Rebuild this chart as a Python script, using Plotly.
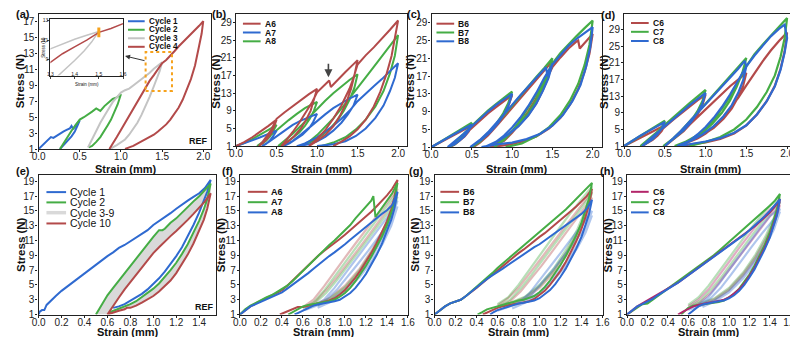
import plotly.graph_objects as go

W, H = 798, 337
FONT = "Liberation Sans, Arial, sans-serif"
BROWN = "#b34a4a"
GREEN = "#45ad45"
BLUE = "#2f6ad0"
MAGENTA = "#b3266a"
GRAY_BAND = "#d9d9d9"
GRAY_LINE = "#c4c4c4"
ORANGE = "#f6a21c"

# ---------------- panel (a): REF, 4 cycles ----------------
A_C1_X = [0.00, 0.03, 0.06, 0.09, 0.12, 0.15, 0.18, 0.22, 0.26, 0.30, 0.34, 0.38, 0.40, 0.42, 0.45, 0.48, 0.50,
          0.47, 0.44, 0.40, 0.36, 0.32, 0.28, 0.26]
A_C1_Y = [1.0, 1.3, 1.6, 2.0, 2.2, 2.5, 2.4, 2.7, 2.9, 3.2, 3.4, 3.6, 3.9, 3.5, 4.0, 4.3, 4.6,
          3.9, 3.2, 2.6, 2.1, 1.6, 1.2, 1.0]
A_C2_X = [0.26, 0.30, 0.35, 0.40, 0.45, 0.50, 0.55, 0.60, 0.65, 0.70, 0.72, 0.75, 0.80, 0.85, 0.90, 0.95, 1.00,
          0.96, 0.92, 0.88, 0.84, 0.80, 0.75, 0.70, 0.65, 0.61]
A_C2_Y = [1.0, 1.7, 2.5, 3.3, 4.0, 4.7, 5.0, 5.3, 5.7, 6.1, 6.0, 5.8, 6.4, 6.9, 7.3, 7.5, 7.9,
          6.6, 5.6, 4.7, 4.0, 3.3, 2.5, 1.9, 1.4, 1.2]
A_C3_X = [0.60, 0.65, 0.70, 0.75, 0.80, 0.85, 0.90, 0.95, 1.00, 1.05, 1.10, 1.15, 1.20, 1.25, 1.30, 1.35, 1.40, 1.45, 1.50,
          1.47, 1.44, 1.40, 1.35, 1.30, 1.25, 1.20, 1.15, 1.10, 1.05, 1.00, 0.95, 0.90, 0.87]
A_C3_Y = [1.2, 2.3, 3.3, 4.3, 5.2, 6.1, 6.9, 7.5, 8.1, 8.4, 8.6, 9.0, 9.4, 9.7, 10.1, 10.6, 11.1, 11.5, 11.9,
          10.8, 9.9, 8.9, 7.6, 6.4, 5.3, 4.3, 3.5, 2.8, 2.2, 1.8, 1.5, 1.2, 1.0]
A_C4_X = [0.86, 0.90, 0.95, 1.00, 1.05, 1.10, 1.15, 1.20, 1.25, 1.30, 1.35, 1.40, 1.45, 1.50, 1.55, 1.60, 1.65, 1.70,
          1.75, 1.80, 1.85, 1.90, 1.95, 2.00,
          1.98, 1.95, 1.92, 1.90, 1.85, 1.80, 1.75, 1.70, 1.65, 1.60, 1.55, 1.50, 1.45, 1.40, 1.35, 1.30, 1.25,
          1.20, 1.15, 1.10, 1.05]
A_C4_Y = [1.0, 1.6, 2.5, 3.4, 4.3, 5.2, 6.1, 7.0, 7.9, 8.7, 9.6, 10.3, 11.0, 11.8, 12.2, 12.7, 13.3, 13.9,
          14.4, 14.9, 15.5, 16.0, 16.5, 17.1,
          15.5, 14.0, 12.5, 11.5, 9.8, 8.4, 7.2, 6.2, 5.4, 4.7, 4.1, 3.6, 3.2, 2.8, 2.5, 2.2, 1.9,
          1.6, 1.4, 1.2, 1.0]

# ---------------- panel (b) ----------------
B_A6_X = [0.00, 0.10, 0.20, 0.30, 0.40, 0.50,
          0.47, 0.43, 0.38, 0.33, 0.28,
          0.33, 0.38, 0.43, 0.47, 0.50, 0.60, 0.70, 0.80, 0.90, 1.00,
          0.96, 0.92, 0.86, 0.80, 0.72, 0.64, 0.56,
          0.62, 0.70, 0.78, 0.86, 0.94, 1.00, 1.08, 1.15, 1.17, 1.25, 1.35, 1.45, 1.50,
          1.46, 1.42, 1.36, 1.28, 1.20, 1.10, 1.00, 0.90,
          1.00, 1.10, 1.20, 1.30, 1.40, 1.45, 1.50, 1.60, 1.70, 1.80, 1.90, 2.00,
          1.96, 1.92, 1.86, 1.78, 1.70, 1.60, 1.50, 1.40, 1.30, 1.20]
B_A6_Y = [1.0, 1.9, 3.0, 4.2, 5.6, 7.0,
          5.4, 3.8, 2.6, 1.7, 1.0,
          2.0, 3.2, 4.6, 6.0, 7.2, 8.7, 10.1, 11.5, 12.8, 14.0,
          11.2, 9.0, 6.8, 5.0, 3.3, 2.0, 1.0,
          2.3, 4.2, 6.3, 8.5, 11.0, 13.2, 14.6, 15.9, 14.4, 16.0, 17.8, 19.6, 20.5,
          17.0, 14.0, 10.8, 7.8, 5.5, 3.5, 2.2, 1.0,
          2.6, 4.6, 7.2, 10.2, 14.0, 16.5, 19.5, 21.6, 23.4, 25.3, 27.4, 29.5,
          25.0, 21.5, 17.5, 13.3, 10.0, 7.0, 4.8, 3.2, 2.0, 1.0]
B_A7_X = [0.00, 0.10, 0.20, 0.30, 0.40, 0.50,
          0.46, 0.42, 0.37, 0.32,
          0.40, 0.50, 0.60, 0.70, 0.80, 0.90, 1.00,
          0.95, 0.90, 0.82, 0.74, 0.66, 0.58,
          0.70, 0.80, 0.90, 1.00, 1.10, 1.20, 1.30, 1.40, 1.50,
          1.45, 1.38, 1.30, 1.20, 1.10, 1.00, 0.90, 0.75,
          0.85, 1.00, 1.10, 1.20, 1.30, 1.40, 1.50, 1.60, 1.70, 1.80, 1.90, 2.00,
          1.96, 1.90, 1.82, 1.72, 1.60, 1.48, 1.35, 1.20, 1.00]
B_A7_Y = [1.0, 1.6, 2.3, 3.0, 3.8, 4.5,
          3.3, 2.3, 1.5, 1.0,
          1.9, 3.2, 4.6, 5.8, 6.8, 7.6, 8.3,
          6.4, 5.0, 3.6, 2.5, 1.6, 1.0,
          2.2, 3.6, 5.2, 6.6, 8.2, 9.6, 10.8, 11.8, 12.7,
          10.2, 8.2, 6.3, 4.5, 3.1, 2.1, 1.4, 1.0,
          1.6, 3.0, 4.2, 5.6, 7.2, 9.0, 11.2, 13.0, 14.6, 16.2, 17.9, 19.8,
          16.5, 13.5, 10.2, 7.4, 5.0, 3.3, 2.1, 1.4, 1.0]
B_A8_X = [0.00, 0.10, 0.20, 0.30, 0.40, 0.50,
          0.46, 0.42, 0.37, 0.32, 0.26,
          0.35, 0.45, 0.55, 0.65, 0.75, 0.85, 0.92, 1.00,
          0.96, 0.91, 0.85, 0.78, 0.70, 0.62, 0.52,
          0.60, 0.70, 0.80, 0.90, 1.00, 1.10, 1.20, 1.30, 1.40, 1.50,
          1.46, 1.40, 1.33, 1.25, 1.15, 1.05, 0.93, 0.80,
          0.90, 1.00, 1.10, 1.20, 1.30, 1.40, 1.50, 1.60, 1.70, 1.80, 1.90, 2.00,
          1.96, 1.90, 1.82, 1.72, 1.60, 1.48, 1.35, 1.20, 1.05]
B_A8_Y = [1.0, 1.7, 2.6, 3.6, 4.7, 5.8,
          4.4, 3.2, 2.2, 1.5, 1.0,
          2.2, 3.8, 5.4, 6.9, 8.3, 9.6, 10.3, 11.0,
          9.0, 7.2, 5.6, 4.1, 2.9, 1.9, 1.0,
          2.2, 3.8, 5.6, 7.5, 9.5, 11.3, 13.0, 14.6, 16.0, 17.3,
          14.2, 11.5, 9.0, 6.8, 4.8, 3.3, 2.0, 1.0,
          2.0, 3.5, 5.3, 7.3, 9.5, 11.8, 14.2, 16.6, 19.0, 21.4, 23.8, 26.2,
          21.5, 17.5, 13.5, 10.0, 7.0, 4.8, 3.0, 1.8, 1.0]

# ---------------- panel (c) ----------------
C_B6_X = [0.00, 0.10, 0.20, 0.30, 0.40, 0.50,
          0.46, 0.41, 0.35, 0.29, 0.23,
          0.30, 0.40, 0.50, 0.60, 0.70, 0.80, 0.90, 1.00,
          0.95, 0.89, 0.81, 0.72, 0.62, 0.52,
          0.60, 0.70, 0.80, 0.90, 1.00, 1.10, 1.20, 1.30, 1.40, 1.50,
          1.45, 1.38, 1.30, 1.20, 1.08, 0.95, 0.80,
          0.90, 1.00, 1.10, 1.20, 1.30, 1.40, 1.50, 1.60, 1.70, 1.80, 1.82, 1.84, 1.90, 2.00,
          1.96, 1.90, 1.82, 1.72, 1.60, 1.46, 1.30, 1.12, 0.95, 0.72]
C_B6_Y = [1.0, 2.0, 3.0, 4.0, 4.9, 5.8,
          4.5, 3.4, 2.4, 1.6, 1.0,
          2.0, 3.6, 5.3, 7.0, 8.6, 10.0, 11.4, 12.7,
          10.2, 8.1, 6.1, 4.3, 2.7, 1.0,
          2.0, 3.6, 5.6, 7.7, 9.8, 11.9, 14.0, 16.2, 18.4, 20.4,
          16.8, 13.8, 10.9, 8.2, 5.8, 3.7, 1.6,
          2.4, 4.2, 6.4, 9.0, 12.0, 15.4, 19.0, 21.2, 23.2, 24.8, 25.0, 23.2, 24.4, 26.5,
          22.0, 18.0, 14.0, 10.6, 7.6, 5.2, 3.4, 2.2, 1.5, 1.0]
C_B7_X = [0.00, 0.10, 0.20, 0.30, 0.40, 0.50,
          0.46, 0.41, 0.35, 0.29, 0.22,
          0.30, 0.40, 0.50, 0.60, 0.70, 0.80, 0.90, 1.00,
          0.95, 0.89, 0.81, 0.72, 0.62, 0.50,
          0.60, 0.70, 0.80, 0.90, 1.00, 1.10, 1.20, 1.30, 1.40, 1.45, 1.50,
          1.45, 1.38, 1.30, 1.20, 1.08, 0.95, 0.78,
          0.90, 1.00, 1.10, 1.20, 1.30, 1.40, 1.50, 1.60, 1.70, 1.80, 1.90, 2.00,
          1.96, 1.90, 1.82, 1.72, 1.60, 1.46, 1.30, 1.12, 0.92]
C_B7_Y = [1.0, 2.1, 3.2, 4.3, 5.4, 6.5,
          5.0, 3.7, 2.6, 1.7, 1.0,
          2.3, 4.0, 5.8, 7.6, 9.2, 10.7, 12.1, 13.5,
          10.8, 8.6, 6.4, 4.5, 2.8, 1.0,
          2.2, 4.0, 6.0, 8.2, 10.4, 12.6, 14.7, 16.8, 18.8, 20.0, 21.0,
          17.5, 14.5, 11.5, 8.6, 6.0, 3.8, 1.0,
          2.6, 4.6, 7.0, 9.8, 12.8, 16.2, 19.8, 22.2, 24.2, 26.0, 27.8, 29.5,
          24.0, 19.5, 15.2, 11.5, 8.2, 5.5, 3.4, 1.8, 1.0]
C_B8_X = [0.00, 0.10, 0.20, 0.30, 0.40, 0.50,
          0.46, 0.41, 0.35, 0.28, 0.20,
          0.30, 0.40, 0.50, 0.60, 0.70, 0.80, 0.90, 1.00,
          0.96, 0.90, 0.82, 0.73, 0.62, 0.48,
          0.60, 0.70, 0.80, 0.90, 1.00, 1.10, 1.20, 1.30, 1.42, 1.44, 1.50,
          1.45, 1.38, 1.30, 1.20, 1.08, 0.95, 0.82, 0.66,
          0.80, 0.90, 1.00, 1.10, 1.20, 1.30, 1.40, 1.50, 1.60, 1.70, 1.80, 1.90, 2.00,
          1.97, 1.92, 1.85, 1.75, 1.63, 1.50, 1.35, 1.18, 1.00, 0.80, 0.62]
C_B8_Y = [1.0, 2.1, 3.1, 4.1, 5.1, 6.1,
          4.7, 3.5, 2.5, 1.6, 1.0,
          2.4, 4.0, 5.7, 7.4, 9.0, 10.5, 11.8, 13.0,
          10.6, 8.4, 6.3, 4.4, 2.7, 1.0,
          2.6, 4.3, 6.3, 8.4, 10.5, 12.6, 14.6, 16.6, 19.0, 17.0, 19.8,
          16.5, 13.6, 10.8, 8.1, 5.7, 3.8, 2.3, 1.0,
          2.2, 3.6, 5.4, 7.6, 10.2, 13.2, 16.6, 19.6, 21.8, 23.8, 25.4, 26.8, 28.0,
          23.5, 19.2, 15.0, 11.4, 8.2, 5.8, 4.0, 2.8, 2.0, 1.6, 1.0]

# ---------------- panel (d) ----------------
D_C6_X = [0.00, 0.10, 0.20, 0.30, 0.40, 0.50,
          0.46, 0.41, 0.35, 0.28, 0.22,
          0.30, 0.40, 0.50, 0.60, 0.70, 0.80, 0.90, 1.00,
          0.96, 0.90, 0.82, 0.73, 0.62, 0.50,
          0.60, 0.70, 0.80, 0.90, 1.00, 1.10, 1.20, 1.30, 1.40, 1.45, 1.50,
          1.46, 1.40, 1.32, 1.22, 1.10, 0.96, 0.82, 0.66,
          0.80, 0.90, 1.00, 1.10, 1.20, 1.30, 1.40, 1.50, 1.60, 1.70, 1.80, 1.90, 2.00,
          1.97, 1.92, 1.85, 1.75, 1.63, 1.50, 1.35, 1.18, 1.00, 0.82, 0.68]
D_C6_Y = [1.0, 2.0, 3.0, 4.0, 5.0, 6.0,
          4.6, 3.5, 2.5, 1.7, 1.0,
          2.2, 3.8, 5.6, 7.3, 8.9, 10.5, 12.0, 13.4,
          10.8, 8.6, 6.5, 4.6, 2.9, 1.0,
          2.5, 4.2, 6.1, 8.0, 9.9, 11.8, 13.6, 15.4, 17.0, 17.8, 18.6,
          15.5, 12.8, 10.0, 7.6, 5.4, 3.6, 2.2, 1.0,
          1.9, 2.8, 4.0, 5.6, 7.6, 10.0, 12.6, 15.6, 18.6, 21.4, 24.0, 26.3, 28.3,
          23.8, 19.6, 15.5, 11.8, 8.6, 6.0, 4.0, 2.7, 1.9, 1.4, 1.0]
D_C7_X = [0.00, 0.10, 0.20, 0.30, 0.40, 0.50,
          0.46, 0.41, 0.35, 0.28, 0.20,
          0.30, 0.40, 0.50, 0.60, 0.70, 0.80, 0.90, 1.00,
          0.96, 0.90, 0.82, 0.73, 0.62, 0.48,
          0.60, 0.70, 0.80, 0.90, 1.00, 1.10, 1.20, 1.30, 1.40, 1.50,
          1.45, 1.38, 1.30, 1.20, 1.08, 0.95, 0.80, 0.62,
          0.75, 0.90, 1.00, 1.10, 1.20, 1.30, 1.40, 1.50, 1.60, 1.70, 1.80, 1.90, 2.00,
          1.97, 1.92, 1.85, 1.75, 1.63, 1.50, 1.35, 1.18, 1.00, 0.80]
D_C7_Y = [1.0, 2.3, 3.5, 4.7, 5.9, 7.1,
          5.4, 4.0, 2.8, 1.8, 1.0,
          2.6, 4.3, 6.1, 7.9, 9.6, 11.3, 12.9, 14.5,
          11.8, 9.4, 7.0, 4.9, 3.0, 1.0,
          2.8, 4.7, 6.8, 9.0, 11.2, 13.4, 15.6, 17.8, 20.0, 22.2,
          18.6, 15.2, 12.0, 9.0, 6.3, 4.0, 2.4, 1.0,
          2.0, 3.6, 5.2, 7.4, 10.0, 13.0, 16.4, 20.2, 23.1, 25.4, 27.6, 29.7, 31.8,
          27.0, 22.5, 18.0, 14.0, 10.4, 7.4, 5.0, 3.2, 2.0, 1.0]
D_C8_X = [0.00, 0.10, 0.20, 0.30, 0.40, 0.50,
          0.46, 0.41, 0.35, 0.28, 0.22,
          0.30, 0.40, 0.50, 0.60, 0.70, 0.80, 0.90, 1.00,
          0.96, 0.90, 0.82, 0.73, 0.62, 0.50,
          0.60, 0.70, 0.80, 0.90, 1.00, 1.10, 1.20, 1.30, 1.40, 1.48, 1.50,
          1.46, 1.40, 1.32, 1.22, 1.10, 0.96, 0.82, 0.65,
          0.80, 0.90, 1.00, 1.10, 1.20, 1.30, 1.40, 1.50, 1.60, 1.70, 1.80, 1.90, 1.97, 2.00,
          1.97, 1.92, 1.85, 1.75, 1.63, 1.50, 1.35, 1.18, 1.00, 0.82, 0.66]
D_C8_Y = [1.0, 2.3, 3.5, 4.6, 5.7, 6.8,
          5.2, 3.9, 2.7, 1.8, 1.0,
          2.4, 4.1, 5.9, 7.6, 9.2, 10.8, 12.3, 13.8,
          11.2, 9.0, 6.8, 4.8, 3.0, 1.0,
          2.8, 4.7, 6.8, 9.0, 11.2, 13.3, 15.4, 17.5, 19.6, 21.5, 20.2,
          16.8, 13.8, 10.8, 8.2, 5.8, 3.8, 2.3, 1.0,
          2.2, 3.8, 5.6, 7.8, 10.4, 13.4, 16.8, 20.2, 22.8, 25.2, 27.4, 29.2, 30.2, 27.0,
          23.5, 19.4, 15.4, 11.8, 8.6, 6.0, 4.2, 2.9, 2.1, 1.5, 1.0]

# ---------------- panel (e): REF, 10 cycles ----------------
E_C1_X = [0.00, 0.01, 0.03, 0.05, 0.07, 0.10, 0.15, 0.20, 0.25, 0.30, 0.35, 0.40, 0.45, 0.50, 0.55, 0.60, 0.65,
          0.70, 0.75, 0.80, 0.85, 0.90, 0.95, 1.00, 1.05, 1.10, 1.15, 1.20, 1.25, 1.30, 1.35, 1.40, 1.45, 1.50,
          1.47, 1.44, 1.40, 1.35, 1.30, 1.25, 1.20, 1.15, 1.10, 1.05, 1.00, 0.95, 0.90, 0.85, 0.80, 0.75, 0.70, 0.65]
E_C1_Y = [1.0, 1.4, 1.6, 1.6, 2.3, 2.8, 3.5, 4.2, 4.8, 5.4, 5.9, 6.5, 7.1, 7.7, 8.3, 8.9, 9.4,
          10.0, 10.4, 10.9, 11.4, 11.9, 12.4, 13.1, 13.6, 14.2, 14.7, 15.3, 15.9, 16.4, 16.9, 17.4, 18.1, 19.2,
          17.6, 16.3, 14.8, 13.1, 11.5, 10.1, 8.9, 7.8, 6.8, 5.9, 5.1, 4.4, 3.8, 3.3, 2.8, 2.4, 2.1, 1.9]
E_C2_LX = [0.50, 0.55, 0.60, 0.65, 0.70, 0.75, 0.80, 0.85, 0.90, 0.95, 1.00, 1.05, 1.08, 1.10, 1.15, 1.20,
           1.25, 1.30, 1.35, 1.40, 1.45, 1.50]
E_C2_LY = [1.0, 2.4, 3.6, 4.6, 5.6, 6.6, 7.6, 8.6, 9.6, 10.6, 11.5, 12.4, 12.4, 12.6, 13.4, 14.0,
           14.8, 15.5, 16.3, 17.0, 17.8, 18.7]
E_C2_UX = [1.50, 1.47, 1.44, 1.40, 1.35, 1.30, 1.25, 1.20, 1.15, 1.10, 1.05, 1.00, 0.95, 0.90, 0.85, 0.80,
           0.75, 0.70, 0.65, 0.62]
E_C2_UY = [18.7, 16.6, 15.2, 13.7, 12.0, 10.5, 9.2, 8.0, 7.0, 6.1, 5.2, 4.5, 3.9, 3.3, 2.8, 2.4,
           2.1, 1.8, 1.5, 1.3]
E_C10_LX = [0.60, 0.65, 0.70, 0.75, 0.80, 0.85, 0.90, 0.95, 1.00, 1.05, 1.10, 1.15, 1.20, 1.25, 1.30, 1.35,
            1.40, 1.45, 1.50]
E_C10_LY = [1.0, 2.2, 3.3, 4.4, 5.4, 6.4, 7.4, 8.4, 9.3, 10.1, 10.9, 11.6, 12.3, 13.0, 13.8, 14.6,
            15.4, 16.3, 17.4]
E_C10_UX = [1.50, 1.47, 1.44, 1.40, 1.35, 1.30, 1.25, 1.20, 1.15, 1.10, 1.05, 1.00, 0.95, 0.90, 0.85, 0.80,
            0.77, 0.75, 0.70, 0.65, 0.60]
E_C10_UY = [17.4, 15.3, 13.8, 12.3, 10.6, 9.1, 7.8, 6.6, 5.6, 4.8, 4.1, 3.5, 3.0, 2.6, 2.2, 1.9,
            1.9, 1.7, 1.5, 1.2, 1.0]

# ---------------- panels (f)-(h): first cycle + faded later cycles ----------------
X_LOAD = [0.00, 0.05, 0.10, 0.15, 0.20, 0.25, 0.30, 0.35, 0.40, 0.45, 0.50, 0.55, 0.60, 0.65, 0.70, 0.75,
          0.80, 0.85, 0.90, 0.95, 1.00, 1.05, 1.10, 1.15, 1.20, 1.25, 1.30, 1.35, 1.40, 1.45, 1.50]
FADE_X = [0.60, 0.70, 0.80, 0.90, 1.00, 1.10, 1.20, 1.30, 1.40, 1.50,
          1.44, 1.36, 1.26, 1.14, 1.00, 0.86, 0.72, 0.62,
          0.72, 0.82, 0.92, 1.02, 1.12, 1.22, 1.32, 1.42, 1.50,
          1.44, 1.36, 1.26, 1.14, 1.00, 0.86, 0.74]

F_A6_LY = [1.0, 1.6, 2.1, 2.5, 2.9, 3.2, 3.6, 3.9, 4.3, 4.9, 5.6, 6.3, 7.0, 7.7, 8.4, 9.0,
           9.6, 10.1, 10.7, 11.2, 11.8, 12.4, 13.0, 13.6, 14.3, 14.9, 15.6, 16.3, 17.1, 18.0, 19.2]
F_A6_UX = [1.47, 1.44, 1.40, 1.35, 1.30, 1.25, 1.20, 1.15, 1.10, 1.05, 1.00, 0.95, 0.90, 0.85, 0.80, 0.75,
           0.70, 0.65, 0.60, 0.55, 0.50, 0.45, 0.40, 0.38]
F_A6_UY = [16.8, 15.2, 13.6, 12.0, 10.6, 9.3, 8.1, 7.0, 6.0, 5.1, 4.3, 3.7, 3.2, 2.9, 2.7, 2.5,
           2.3, 2.1, 2.0, 2.0, 1.7, 1.4, 1.1, 1.0]
F_A7_LX = [0.00, 0.05, 0.10, 0.15, 0.20, 0.25, 0.30, 0.35, 0.40, 0.45, 0.50, 0.55, 0.60, 0.65, 0.70, 0.75,
           0.80, 0.85, 0.90, 0.95, 1.00, 1.05, 1.10, 1.15, 1.20, 1.25, 1.27, 1.29, 1.33, 1.37, 1.41, 1.45, 1.50]
F_A7_LY = [1.0, 1.7, 2.2, 2.6, 2.9, 3.3, 3.6, 4.0, 4.4, 4.9, 5.5, 6.2, 6.9, 7.6, 8.3, 9.0,
           9.8, 10.4, 11.0, 11.7, 12.3, 13.1, 14.0, 14.8, 15.6, 16.4, 17.0, 14.2, 15.0, 15.8, 16.6, 17.4, 18.8]
F_A7_UX = [1.47, 1.44, 1.40, 1.35, 1.30, 1.25, 1.20, 1.15, 1.10, 1.05, 1.00, 0.95, 0.90, 0.85, 0.80, 0.75,
           0.70, 0.65, 0.60, 0.55, 0.50, 0.46]
F_A7_UY = [16.2, 14.7, 13.1, 11.5, 10.1, 8.8, 7.6, 6.5, 5.5, 4.6, 3.9, 3.4, 3.0, 2.8, 2.7, 2.6,
           2.5, 2.3, 2.1, 1.7, 1.3, 1.0]
F_A8_LY = [1.0, 1.6, 2.1, 2.4, 2.7, 3.0, 3.3, 3.6, 4.0, 4.5, 5.0, 5.5, 6.0, 6.6, 7.2, 7.8,
           8.4, 8.9, 9.4, 9.9, 10.5, 11.1, 11.7, 12.3, 12.9, 13.5, 14.1, 14.6, 15.1, 15.8, 17.6]
F_A8_UX = [1.47, 1.44, 1.40, 1.35, 1.30, 1.25, 1.20, 1.15, 1.10, 1.05, 1.00, 0.95, 0.90, 0.85, 0.80, 0.75,
           0.70, 0.65, 0.60, 0.55, 0.52]
F_A8_UY = [15.3, 13.8, 12.2, 10.5, 9.0, 7.7, 6.5, 5.5, 4.6, 3.9, 3.4, 3.0, 2.8, 2.7, 2.6, 2.4,
           2.2, 1.9, 1.6, 1.2, 1.0]
F_A6_FADE = [2.0, 3.0, 4.8, 6.8, 8.7, 10.6, 12.5, 14.3, 16.1, 18.0,
             15.0, 12.4, 9.8, 7.2, 4.9, 3.3, 2.4, 2.0,
             2.8, 4.3, 6.0, 7.8, 9.7, 11.6, 13.5, 15.5, 17.4,
             14.5, 12.0, 9.5, 7.0, 4.7, 3.2, 2.3]
F_A7_FADE = [1.9, 2.6, 4.2, 6.1, 8.0, 9.9, 11.8, 13.7, 15.6, 17.6,
             14.8, 12.2, 9.6, 7.0, 4.7, 3.2, 2.3, 1.9,
             2.6, 3.9, 5.6, 7.4, 9.3, 11.2, 13.1, 15.0, 16.9,
             14.1, 11.7, 9.2, 6.8, 4.6, 3.1, 2.2]
F_A8_FADE = [1.6, 2.2, 3.0, 4.6, 6.5, 8.4, 10.3, 12.2, 14.1, 16.4,
             13.8, 11.3, 8.9, 6.5, 4.3, 2.9, 2.1, 1.6,
             2.3, 3.0, 4.3, 6.0, 7.8, 9.6, 11.5, 13.4, 15.6,
             13.0, 10.6, 8.3, 6.1, 4.0, 2.7, 1.9]

G_B6_LY = [1.0, 1.6, 2.1, 2.5, 2.8, 3.0, 3.5, 4.0, 4.6, 5.2, 5.8, 6.4, 6.9, 7.5, 8.1, 8.7,
           9.3, 9.8, 10.4, 10.9, 11.5, 12.0, 12.6, 13.2, 13.8, 14.3, 15.0, 15.6, 16.3, 17.0, 18.0]
G_B6_UX = [1.47, 1.44, 1.40, 1.35, 1.30, 1.25, 1.20, 1.15, 1.10, 1.05, 1.00, 0.95, 0.90, 0.85, 0.80, 0.75,
           0.70, 0.65, 0.60, 0.55, 0.50, 0.46]
G_B6_UY = [15.8, 14.3, 12.6, 10.9, 9.4, 8.1, 6.9, 5.9, 5.0, 4.2, 3.6, 3.1, 2.8, 2.6, 2.5, 2.4,
           2.3, 2.1, 1.9, 1.6, 1.2, 1.0]
G_B7_LY = [1.0, 1.6, 2.1, 2.5, 2.8, 3.0, 3.5, 4.1, 4.7, 5.3, 5.9, 6.6, 7.3, 7.9, 8.6, 9.2,
           9.8, 10.4, 11.0, 11.6, 12.2, 12.8, 13.4, 14.0, 14.6, 15.2, 15.9, 16.6, 17.3, 18.0, 18.8]
G_B7_UX = [1.47, 1.44, 1.40, 1.35, 1.30, 1.25, 1.20, 1.15, 1.10, 1.05, 1.00, 0.95, 0.90, 0.85, 0.80, 0.75,
           0.70, 0.65, 0.60, 0.55, 0.50, 0.45, 0.41]
G_B7_UY = [16.6, 15.1, 13.4, 11.7, 10.2, 8.9, 7.7, 6.6, 5.6, 4.7, 4.0, 3.5, 3.2, 3.0, 2.9, 2.7,
           2.5, 2.3, 2.1, 2.0, 1.7, 1.3, 1.0]
G_B8_LY = [1.0, 1.6, 2.1, 2.5, 2.8, 3.0, 3.5, 4.1, 4.7, 5.3, 5.8, 6.3, 6.7, 7.2, 7.7, 8.2,
           8.6, 9.1, 9.6, 10.1, 10.5, 11.0, 11.5, 12.0, 12.5, 13.0, 13.5, 14.0, 14.6, 15.3, 16.5]
G_B8_UX = [1.47, 1.44, 1.40, 1.35, 1.30, 1.25, 1.20, 1.15, 1.10, 1.05, 1.00, 0.95, 0.90, 0.85, 0.80, 0.75,
           0.70, 0.65, 0.60, 0.56, 0.53]
G_B8_UY = [14.5, 13.1, 11.5, 9.9, 8.5, 7.2, 6.1, 5.1, 4.3, 3.7, 3.2, 2.9, 2.7, 2.6, 2.5, 2.3,
           2.1, 1.9, 1.6, 1.3, 1.0]
G_B6_FADE = [2.2, 3.2, 4.6, 6.4, 8.3, 10.2, 12.1, 14.0, 15.8, 17.6,
             14.6, 12.0, 9.5, 7.0, 4.8, 3.3, 2.5, 2.1,
             2.8, 4.1, 5.8, 7.6, 9.5, 11.4, 13.3, 15.2, 16.8,
             14.0, 11.6, 9.1, 6.7, 4.6, 3.1, 2.4]
G_B7_FADE = [2.4, 3.3, 5.0, 7.0, 9.0, 11.0, 12.9, 14.8, 16.6, 18.3,
             15.2, 12.5, 9.9, 7.3, 5.0, 3.4, 2.6, 2.2,
             3.0, 4.5, 6.3, 8.2, 10.1, 12.0, 13.9, 15.8, 17.5,
             14.6, 12.1, 9.6, 7.0, 4.8, 3.3, 2.5]
G_B8_FADE = [1.5, 2.0, 2.6, 3.8, 5.6, 7.4, 9.3, 11.2, 13.0, 15.0,
             12.6, 10.4, 8.2, 6.0, 4.0, 2.8, 2.1, 1.6,
             2.0, 2.6, 3.6, 5.2, 6.9, 8.7, 10.5, 12.4, 14.4,
             12.1, 10.0, 7.8, 5.7, 3.8, 2.6, 1.8]

H_C6_LY = [1.0, 1.6, 2.1, 2.5, 2.9, 3.2, 3.6, 4.0, 4.4, 4.8, 5.3, 5.8, 6.3, 6.8, 7.3, 7.8,
           8.3, 8.8, 9.3, 9.8, 10.3, 10.8, 11.3, 11.8, 12.4, 12.9, 13.5, 14.1, 14.8, 15.6, 16.6]
H_C6_UX = [1.47, 1.44, 1.40, 1.35, 1.30, 1.25, 1.20, 1.15, 1.10, 1.05, 1.00, 0.95, 0.90, 0.85, 0.80, 0.75,
           0.70, 0.65, 0.60, 0.55, 0.50]
H_C6_UY = [14.6, 13.2, 11.6, 10.0, 8.6, 7.3, 6.2, 5.2, 4.4, 3.8, 3.3, 3.0, 2.8, 2.7, 2.6, 2.5,
           2.3, 2.1, 1.8, 1.4, 1.0]
H_C7_LY = [1.0, 1.5, 2.0, 2.4, 2.5, 3.0, 3.5, 4.0, 4.4, 4.9, 5.4, 5.9, 6.4, 6.9, 7.4, 7.9,
           8.5, 9.0, 9.6, 10.2, 10.8, 11.4, 12.0, 12.6, 13.2, 13.8, 14.4, 15.0, 15.7, 16.4, 17.3]
H_C7_UX = [1.47, 1.44, 1.40, 1.35, 1.30, 1.25, 1.20, 1.15, 1.10, 1.05, 1.00, 0.95, 0.90, 0.85, 0.80, 0.75,
           0.70, 0.65, 0.60, 0.56, 0.53]
H_C7_UY = [15.2, 13.8, 12.1, 10.4, 8.9, 7.6, 6.4, 5.4, 4.5, 3.8, 3.3, 2.9, 2.7, 2.6, 2.6, 2.5,
           2.4, 2.2, 1.9, 1.4, 1.0]
H_C8_LY = [1.0, 1.6, 2.1, 2.4, 2.7, 3.1, 3.6, 4.0, 4.4, 4.9, 5.3, 5.8, 6.3, 6.8, 7.3, 7.8,
           8.2, 8.7, 9.2, 9.7, 10.2, 10.7, 11.3, 11.8, 12.4, 13.0, 13.6, 14.3, 15.0, 15.8, 16.6]
H_C8_UX = [1.47, 1.44, 1.40, 1.35, 1.30, 1.25, 1.20, 1.15, 1.10, 1.05, 1.00, 0.95, 0.90, 0.85, 0.80, 0.75,
           0.70, 0.65, 0.60]
H_C8_UY = [14.4, 13.0, 11.4, 9.8, 8.4, 7.1, 6.0, 5.0, 4.2, 3.6, 3.2, 2.9, 2.8, 2.7, 2.6, 2.4,
           2.1, 1.6, 1.0]
H_C6_FADE = [2.1, 3.0, 4.4, 6.2, 8.1, 10.0, 11.8, 13.6, 15.2, 16.2,
             13.6, 11.2, 8.8, 6.5, 4.4, 3.1, 2.4, 2.0,
             2.7, 3.9, 5.6, 7.4, 9.3, 11.1, 12.9, 14.6, 15.8,
             13.2, 10.9, 8.5, 6.3, 4.3, 3.0, 2.3]
H_C7_FADE = [2.3, 3.3, 4.9, 6.8, 8.7, 10.6, 12.4, 14.1, 15.7, 16.8,
             14.1, 11.6, 9.1, 6.7, 4.6, 3.2, 2.5, 2.1,
             2.9, 4.3, 6.0, 7.9, 9.8, 11.6, 13.4, 15.0, 16.3,
             13.7, 11.3, 8.8, 6.5, 4.4, 3.1, 2.4]
H_C8_FADE = [1.6, 2.3, 3.4, 5.1, 7.0, 8.9, 10.8, 12.6, 14.3, 15.3,
             12.9, 10.6, 8.3, 6.1, 4.1, 2.9, 2.2, 1.7,
             2.3, 3.2, 4.6, 6.4, 8.3, 10.1, 11.9, 13.6, 14.9,
             12.5, 10.3, 8.0, 5.9, 4.0, 2.8, 2.0]

# ---------------- layout helpers ----------------
fig = go.Figure()


def chk(x, y):
    assert len(x) == len(y), (len(x), len(y))
    return x, y


def line(x, y, color, ax, width=2.0, opacity=1.0):
    x, y = chk(list(x), list(y))
    fig.add_trace(go.Scatter(x=x, y=y, mode="lines", line=dict(color=color, width=width),
                             opacity=opacity, xaxis="x" + ax, yaxis="y" + ax, hoverinfo="skip"))


def band(xa, ya, xb, yb, ax):
    chk(xa, ya); chk(xb, yb)
    fig.add_trace(go.Scatter(x=list(xa) + list(xb)[::-1], y=list(ya) + list(yb)[::-1], mode="lines",
                             fill="toself", fillcolor=GRAY_BAND, line=dict(width=0, color=GRAY_BAND),
                             xaxis="x" + ax, yaxis="y" + ax, hoverinfo="skip"))


# (a)
line(A_C1_X, A_C1_Y, BLUE, "")
line(A_C2_X, A_C2_Y, GREEN, "")
line(A_C3_X, A_C3_Y, GRAY_LINE, "")
line(A_C4_X, A_C4_Y, BROWN, "")
# inset of (a)
line(A_C3_X, A_C3_Y, GRAY_LINE, "9", width=1.5)
line(A_C4_X, A_C4_Y, BROWN, "9", width=1.5)
# (b)
line(B_A8_X, B_A8_Y, GREEN, "2")
line(B_A7_X, B_A7_Y, BLUE, "2")
line(B_A6_X, B_A6_Y, BROWN, "2")
# (c)
line(C_B6_X, C_B6_Y, BROWN, "3", 2.2)
line(C_B7_X, C_B7_Y, GREEN, "3", 2.2)
line(C_B8_X, C_B8_Y, BLUE, "3", 2.2)
# (d)
line(D_C6_X, D_C6_Y, BROWN, "4", 2.2)
line(D_C7_X, D_C7_Y, GREEN, "4", 2.2)
line(D_C8_X, D_C8_Y, BLUE, "4", 2.2)
# (e)
band(E_C2_LX, E_C2_LY, E_C10_LX, E_C10_LY, "5")
band(E_C2_UX, E_C2_UY, E_C10_UX, E_C10_UY, "5")
line(E_C1_X, E_C1_Y, BLUE, "5")
line(E_C2_LX + E_C2_UX, E_C2_LY + E_C2_UY, GREEN, "5")
line(E_C10_LX + E_C10_UX, E_C10_LY + E_C10_UY, BROWN, "5")
# (f)
for yy, c in ((F_A6_FADE, BROWN), (F_A7_FADE, GREEN), (F_A8_FADE, BLUE)):
    line(FADE_X, yy, c, "6", 2.2, 0.38)
line(X_LOAD + F_A6_UX, F_A6_LY + F_A6_UY, BROWN, "6")
line(F_A7_LX + F_A7_UX, F_A7_LY + F_A7_UY, GREEN, "6")
line(X_LOAD + F_A8_UX, F_A8_LY + F_A8_UY, BLUE, "6")
# (g)
for yy, c in ((G_B6_FADE, BROWN), (G_B7_FADE, GREEN), (G_B8_FADE, BLUE)):
    line(FADE_X, yy, c, "7", 2.2, 0.38)
line(X_LOAD + G_B6_UX, G_B6_LY + G_B6_UY, BROWN, "7")
line(X_LOAD + G_B7_UX, G_B7_LY + G_B7_UY, GREEN, "7")
line(X_LOAD + G_B8_UX, G_B8_LY + G_B8_UY, BLUE, "7")
# (h)
for yy, c in ((H_C6_FADE, MAGENTA), (H_C7_FADE, GREEN), (H_C8_FADE, BLUE)):
    line(FADE_X, yy, c, "8", 2.2, 0.38)
line(X_LOAD + H_C7_UX, H_C7_LY + H_C7_UY, GREEN, "8")
line(X_LOAD + H_C6_UX, H_C6_LY + H_C6_UY, MAGENTA, "8")
line(X_LOAD + H_C8_UX, H_C8_LY + H_C8_UY, BLUE, "8")

# panel boxes in pixels (x0, x1, y0, y1)
BOXES = [(24, 200, 5, 143), (225, 399, 5, 140), (424, 597, 5, 141), (620, 795, 5, 140),
         (24, 205, 170, 312), (229, 400, 170, 312), (427, 598, 170, 312), (623, 789, 170, 312)]
XR = [[0, 2.1], [0, 2.11], [0, 2.11], [0, 2.11], [0, 1.55], [0, 1.6], [0, 1.6], [0, 1.6]]
YR = [[1, 18], [1, 31], [1, 31], [1, 32.8], [1, 19.8], [1, 19.8], [1, 19.8], [1, 19.8]]
XD = [0.5, 0.5, 0.5, 0.5, 0.2, 0.2, 0.2, 0.2]
YD = [2, 4, 4, 4, 2, 2, 2, 2]

tickfont = dict(family=FONT, size=10, color="#222")
for i in range(8):
    x0, x1, y0, y1 = BOXES[i]
    sfx = "" if i == 0 else str(i + 1)
    fig.layout["xaxis" + sfx] = dict(domain=[x0 / W, x1 / W], anchor="y" + sfx, range=XR[i],
                                     tick0=0, dtick=XD[i], tickformat=".1f", ticks="outside", ticklen=2,
                                     tickwidth=1, tickcolor="#222", showline=True, mirror=True,
                                     linecolor="#222", linewidth=1.3, showgrid=False, zeroline=False,
                                     tickfont=tickfont, ticklabelstandoff=-4)
    fig.layout["yaxis" + sfx] = dict(domain=[1 - y1 / H, 1 - y0 / H], anchor="x" + sfx, range=YR[i],
                                     tick0=1, dtick=YD[i], ticks="outside", ticklen=2, tickwidth=1,
                                     tickcolor="#222", showline=True, mirror=True, linecolor="#222",
                                     linewidth=1.3, showgrid=False, zeroline=False, tickfont=tickfont,
                                     ticklabelstandoff=-1)

# inset axes
small = dict(family=FONT, size=5, color="#222")
fig.layout["xaxis9"] = dict(domain=[36 / W, 110 / W], anchor="y9", range=[1.3, 1.6], tick0=1.3, dtick=0.1,
                            tickformat=".1f", ticks="outside", ticklen=2, tickwidth=0.8, showline=True,
                            mirror=True, linecolor="#222", linewidth=1.2, showgrid=False, zeroline=False,
                            tickfont=small, ticklabelstandoff=-9)
fig.layout["yaxis9"] = dict(domain=[1 - 68 / H, 1 - 10 / H], anchor="x9", range=[7.35, 13.2], tick0=9,
                            dtick=2, ticks="outside", ticklen=2, tickwidth=0.8, showline=True, mirror=True,
                            linecolor="#222", linewidth=1.2, showgrid=False, zeroline=False, tickfont=small,
                            ticklabelstandoff=-2)

fig.update_layout(width=W, height=H, margin=dict(l=0, r=0, t=0, b=0), plot_bgcolor="white",
                  paper_bgcolor="white", showlegend=False, font=dict(family=FONT, color="#222"))


def ann(px, py, text, size, angle=0, xanchor="center", color="#111"):
    fig.add_annotation(xref="paper", yref="paper", x=px / W, y=1 - py / H, text=text, showarrow=False,
                       textangle=angle, xanchor=xanchor, yanchor="middle",
                       font=dict(family=FONT, size=size, color=color))


# axis titles
for i, (x0, x1, y0, y1) in enumerate(BOXES):
    ty = 163 if i < 4 else 330
    ann((x0 + x1) / 2, ty, "<b>Strain (mm)</b>", 11)
YT_X = [6, 205, 403, 600, 6, 210, 407, 604]
for i in range(8):
    ann(YT_X[i], 74 if i < 4 else 241, "<b>Stress (N)</b>", 11.5, angle=-90)

# panel letters
for (px, py, t) in [(8, 5, "(a)"), (208, 5, "(b)"), (406, 5, "(c)"), (604, 6, "(d)"),
                    (8, 165, "(e)"), (216, 165, "(f)"), (408, 165, "(g)"), (603, 165, "(h)")]:
    ann(px, py, "<b>" + t + "</b>", 11)

# REF labels
ann(187, 135, "<b>REF</b>", 9)
ann(193, 304, "<b>REF</b>", 9)

# inset titles
ann(73, 77.5, "Strain (mm)", 4.5)
ann(29, 39, "Stress (N)", 4.5, angle=-90)


def legend(entries, lx0, lx1, ys, size, bold=True):
    for (name, color, width), y in zip(entries, ys):
        fig.add_shape(type="line", xref="paper", yref="paper", x0=lx0 / W, x1=lx1 / W,
                      y0=1 - y / H, y1=1 - y / H, line=dict(color=color, width=width))
        ann(lx1 + 2, y, ("<b>%s</b>" % name) if bold else name, size, xanchor="left")


legend([("Cycle 1", BLUE, 2), ("Cycle 2", GREEN, 2), ("Cycle 3", GRAY_LINE, 2), ("Cycle 4", BROWN, 2)],
       115, 132, [12.5, 21.2, 29.9, 38.6], 8.2)
legend([("A6", BROWN, 2), ("A7", BLUE, 2), ("A8", GREEN, 2)], 232, 250, [15, 24, 33], 8.5)
legend([("B6", BROWN, 2), ("B7", GREEN, 2), ("B8", BLUE, 2)], 429, 447, [15, 24, 33], 8.5)
legend([("C6", BROWN, 2), ("C7", GREEN, 2), ("C8", BLUE, 2)], 627, 645, [14.3, 23.3, 32.7], 8.5)
legend([("Cycle 1", BLUE, 2), ("Cycle 2", GREEN, 2), ("Cycle 3-9", GRAY_BAND, 3.5), ("Cycle 10", BROWN, 2)],
       32, 52, [187, 197.5, 208, 219], 10.5, bold=False)
legend([("A6", BROWN, 2), ("A7", GREEN, 2), ("A8", BLUE, 2)], 237, 257, [186.7, 197.3, 207.7], 9)
legend([("B6", BROWN, 2), ("B7", GREEN, 2), ("B8", BLUE, 2)], 433, 452, [186.7, 197.3, 207.7], 9)
legend([("C6", MAGENTA, 2), ("C7", GREEN, 2), ("C8", BLUE, 2)], 627, 645, [186.7, 197.3, 207.7], 9)

# zoom box in (a), marker in inset, arrows
fig.add_shape(type="rect", xref="x", yref="y", x0=1.3, x1=1.62, y0=8.3, y1=13.2,
              line=dict(color=ORANGE, width=2, dash="dot"))
fig.add_shape(type="line", xref="x9", yref="y9", x0=1.5, x1=1.5, y0=11.3, y1=12.3,
              line=dict(color=ORANGE, width=3))
fig.add_annotation(xref="paper", yref="paper", x=112 / W, y=1 - 48 / H, ax=21, ay=5, text="",
                   showarrow=True, arrowhead=2, arrowsize=1, arrowwidth=1, arrowcolor="#333")
fig.add_annotation(xref="x2", yref="y2", x=1.14, y=16.6, ax=0, ay=-15, text="", showarrow=True,
                   arrowhead=2, arrowsize=1, arrowwidth=1.6, arrowcolor="#444")

fig.write_html("out.html")
